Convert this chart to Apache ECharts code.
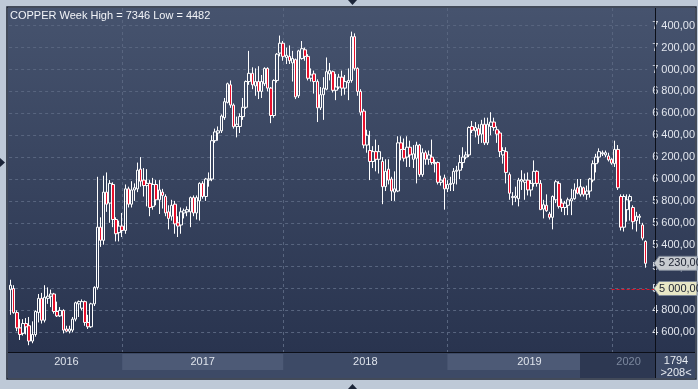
<!DOCTYPE html>
<html><head><meta charset="utf-8">
<script src="https://cdn.jsdelivr.net/npm/echarts@6/dist/echarts.min.js"></script>
<style>html,body{margin:0;padding:0;background:#bec9d7;overflow:hidden}#c{width:698px;height:389px}</style>
</head><body><div id="c"></div>
<script>
// ---- data (weekly OHLC, COPPER) ----
const opens = [4990,5000,4780,4640,4590,4680,4660,4520,4580,4780,4910,4710,4910,4930,4950,4790,4750,4800,4630,4610,
4620,4720,4860,4820,4880,4690,4650,4860,5010,5560,5440,5880,5780,5950,5630,5510,5570,5530,5910,5770,
5900,5910,6090,5990,5940,5960,5750,5950,5810,5880,5840,5700,5660,5770,5600,5580,5690,5700,5700,5830,
5690,5800,5960,5840,5990,6000,6350,6420,6440,6560,6700,6860,6675,6480,6480,6570,6655,6890,6965,6850,
6890,6800,6870,7010,6830,6580,6900,7150,7240,7110,7120,7060,7090,6760,7100,7180,7120,6920,6960,6890,
6650,6770,6820,6960,6980,6810,6840,6930,6830,6880,6900,7300,7010,6800,6620,6310,6260,6160,6250,6180,
6160,5930,6090,6000,5880,5890,6330,6270,6200,6290,6180,6190,6310,6040,6240,6180,6200,6140,6150,5970,
6010,5910,5950,5960,6070,6080,6150,6200,6220,6480,6440,6460,6410,6500,6330,6480,6520,6450,6420,6220,
6250,6040,5830,5830,5820,5980,5970,5990,5900,5960,6070,5960,5725,5760,5680,5650,5810,5960,5780,5740,
5760,5800,5820,5920,5860,5920,5860,5890,5990,6140,6200,6230,6220,6210,6180,6140,6270,5840,5560,5720,
5800,5740,5620,5650,5580,5430];
const closes = [5030,4780,4640,4580,4680,4650,4520,4580,4790,4910,4710,4920,4930,4950,4790,4750,4800,4620,4610,4630,
4720,4870,4880,4880,4690,4650,4860,5010,5560,5440,5880,5770,5960,5630,5500,5570,5530,5910,5770,5900,
5920,6080,5980,5940,5960,5740,5950,5810,5900,5850,5690,5640,5760,5590,5570,5700,5710,5720,5830,5690,
5830,5960,5840,6000,6000,6350,6430,6440,6575,6706,6870,6675,6478,6500,6570,6655,6890,6965,6860,6890,
6800,6890,7010,6830,6580,6900,7140,7240,7120,7130,7080,7100,6750,7170,7190,7120,6920,6950,6890,6650,
6770,6830,6980,6990,6810,6840,6930,6830,6890,6900,7300,7010,6800,6610,6310,6400,6160,6250,6180,6250,
5930,6070,5990,5890,5910,6330,6270,6190,6290,6220,6230,6310,6040,6240,6180,6220,6150,6150,5970,5990,
5910,5950,5960,6070,6080,6150,6200,6220,6470,6445,6470,6400,6500,6330,6500,6520,6470,6410,6250,6260,
6060,5870,5840,5845,5990,5995,5990,5900,5960,6070,5960,5720,5765,5710,5650,5840,5975,5750,5740,5780,
5810,5820,5900,5870,5930,5860,5890,6000,6140,6200,6250,6240,6240,6175,6145,6270,5920,5560,5840,5810,
5840,5610,5660,5660,5460,5230];
const lows = [4760,4770,4610,4530,4570,4580,4482,4500,4560,4690,4680,4690,4860,4830,4770,4740,4740,4590,4600,4590,
4600,4700,4740,4800,4660,4630,4640,4840,4990,5380,5400,5700,5600,5560,5430,5430,5470,5500,5740,5740,
5800,5880,5930,5840,5750,5660,5720,5760,5680,5730,5660,5540,5620,5500,5470,5500,5640,5660,5560,5660,
5630,5620,5820,5800,5930,5980,6330,6350,6420,6540,6690,6650,6460,6380,6420,6540,6640,6860,6820,6760,
6730,6740,6850,6800,6510,6560,6880,7120,7080,7050,7050,6890,6730,6740,7090,7080,6900,6890,6780,6520,
6630,6540,6810,6900,6790,6720,6820,6760,6770,6720,6880,6990,6760,6580,6280,6240,5990,6100,6070,6050,
5770,5890,5950,5800,5800,5880,6170,6160,6110,6110,6100,5960,6020,6020,6130,6130,6130,6060,5950,5940,
5720,5880,5890,5890,5950,6000,6100,6180,6200,6420,6380,6320,6330,6310,6310,6400,6440,6330,6200,6140,
5960,5810,5760,5790,5750,5900,5810,5850,5840,5930,5930,5720,5640,5700,5630,5540,5780,5730,5700,5670,
5670,5670,5810,5860,5840,5840,5810,5830,5970,6060,6150,6210,6200,6160,6130,6110,5900,5530,5520,5610,
5620,5540,5520,5590,5440,5190];
const highs = [5080,5030,4800,4720,4720,4730,4740,4700,4800,4950,4960,5030,5010,4990,4960,4880,4830,4810,4660,4660,
4740,4880,4890,4900,4890,4760,4870,5020,6020,5650,6030,6060,5990,5970,5650,5620,5690,5950,5930,5980,
5960,6150,6200,6100,6090,5990,6010,5990,5990,5910,5860,5760,5810,5800,5660,5740,5730,5750,5840,5850,
5850,5970,5980,6010,6060,6400,6460,6480,6590,6740,6880,6900,6690,6570,6600,6740,6900,7170,7020,7010,
7030,6950,7020,7020,6840,6910,7150,7310,7260,7200,7220,7170,7100,7180,7260,7200,7140,7010,6990,6910,
6840,6930,7110,7060,6990,6960,6960,6990,6950,7010,7346,7330,7020,6820,6640,6450,6440,6300,6360,6310,
6200,6180,6180,6020,6070,6390,6390,6370,6390,6350,6310,6340,6320,6280,6260,6260,6360,6180,6160,6030,
6040,5990,6020,6100,6120,6220,6290,6250,6480,6530,6520,6500,6540,6560,6560,6610,6560,6480,6440,6290,
6290,6060,5880,5930,6010,6080,6050,6060,5990,6170,6080,5990,5810,5860,5700,5850,5990,5980,5820,5800,
5830,5910,5960,6000,6000,5930,5940,6010,6170,6230,6280,6260,6260,6240,6190,6350,6310,5860,5860,5860,
5860,5760,5700,5680,5600,5440];
const yearLabels = ['2016','2017','2018','2019','2020'];
const yearStartIndex = [0, 36, 88, 141, 194];   // first weekly bar of each year
const yMin = 4600, yMax = 7400, yStep = 200;
const lastPrice = 5230;
const alertLevel = 5000;
const titleText = 'COPPER Week High = 7346 Low = 4482';
const footerTop = '1794', footerBottom = '>208<';

// ---- chart ----
const chart = echarts.init(document.getElementById('c'), null, {renderer:'canvas', width:698, height:389});
const cats = opens.map((_, i) => String(i));
const ohlc = opens.map((o, i) => [o, closes[i], lows[i], highs[i]]);
const fmt = v => String(v).replace(/\B(?=(\d{3})+(?!\d))/g, ' ') + ',00';
const FONT = '"Liberation Sans Narrow","Arial Narrow","Liberation Sans",Arial,sans-serif';

const GRID = {left: 9.1, right: 44.1, top: 25.7, bottom: 56.7};
chart.setOption({
  animation: false,
  backgroundColor: 'transparent',
  grid: GRID,
  xAxis: {type:'category', data: cats, boundaryGap: true,
    axisLine:{show:false}, axisTick:{show:false}, axisLabel:{show:false}, splitLine:{show:false}},
  yAxis: {type:'value', position:'right', min:yMin, max:yMax, interval:yStep, scale:true,
    axisLine:{show:false}, axisTick:{show:false},
    axisLabel:{margin:5, color:'#e2e6ee', fontSize:11, fontFamily:FONT, formatter: fmt},
    splitLine:{show:true, lineStyle:{color:'#58657f', type:[3,3], width:1}}},
  series: [{
    type:'candlestick', data: ohlc, clip:false, barWidth: 3,
    itemStyle:{color:'rgba(0,0,0,0)', color0:'#e8102c', borderColor:'#ffffff', borderColor0:'#ffffff', borderWidth:1},
    emphasis:{disabled:true}
  }]
});

const px = i => chart.convertToPixel({xAxisIndex:0}, i);
const py = v => chart.convertToPixel({yAxisIndex:0}, v);
const L = 8, R = 655, T = 8, B = 352, BB = 378, RR = 695;

const els = [];
// panel background
els.push({type:'rect', z:-20, silent:true, shape:{x:L, y:T, width:RR-L, height:B-T},
  style:{fill:new echarts.graphic.LinearGradient(0,0,0,1,[{offset:0,color:'#46536e'},{offset:1,color:'#29344f'}])}});
// time band
els.push({type:'rect', z:-20, silent:true, shape:{x:L, y:B, width:RR-L, height:BB-B}, style:{fill:'#3d4a66'}});
// year boundary x positions
const bx = yearStartIndex.map((idx, k) => k === 0 ? L : px(idx));
// shaded boxes for 2017 and 2019
els.push({type:'rect', z:-19, silent:true, shape:{x:bx[1], y:B+2, width:bx[2]-bx[1], height:16}, style:{fill:'#4d5a76'}});
els.push({type:'rect', z:-19, silent:true, shape:{x:bx[3], y:B+2, width:580-bx[3], height:16}, style:{fill:'#4d5a76'}});
els.push({type:'rect', z:-18, silent:true, shape:{x:580, y:B+1, width:R-580, height:BB-B-1}, style:{fill:'#2d3852'}});
// vertical year lines
for (let k = 1; k < bx.length; k++) {
  els.push({type:'line', z:-15, silent:true, shape:{x1:Math.round(bx[k])+0.5, y1:T, x2:Math.round(bx[k])+0.5, y2:B},
    style:{stroke:'#58657f', lineWidth:1, lineDash:[3,3]}});
}
// year labels
const firstX = px(0), lastX = px(opens.length-1);
for (let k = 0; k < yearLabels.length; k++) {
  const a = k === 0 ? firstX : bx[k];
  const b = k === yearLabels.length-1 ? lastX : bx[k+1];
  els.push({type:'text', z:10, silent:true, style:{x:(a+b)/2, y:362, text:yearLabels[k], align:'center', verticalAlign:'middle',
    fill: k === yearLabels.length-1 ? '#7c889e' : '#dfe4ec', font:'11px ' + FONT}});
}
// frame lines
els.push({type:'line', z:5, silent:true, shape:{x1:R+0.5, y1:T, x2:R+0.5, y2:BB}, style:{stroke:'#0c0f18', lineWidth:1}});
els.push({type:'line', z:5, silent:true, shape:{x1:L, y1:B+0.5, x2:RR, y2:B+0.5}, style:{stroke:'#0c0f18', lineWidth:1}});
els.push({type:'rect', z:5, silent:true, shape:{x:L-1, y:T-1, width:RR-L+2, height:BB-T+2}, style:{fill:'none', stroke:'#1a2130', lineWidth:1.5}});
// title
els.push({type:'text', z:10, silent:true, style:{x:10, y:16, text:titleText, verticalAlign:'middle', fill:'#f2f4f8', font:'11px ' + FONT}});
// alert line at 5000
const ya = Math.round(py(alertLevel)) + 0.5;
els.push({type:'line', z:6, silent:true, shape:{x1:px(yearStartIndex[4]), y1:ya, x2:R, y2:ya}, style:{stroke:'#e0162a', lineWidth:1, lineDash:[3,2]}});
// price tags
function tag(v, fill) {
  const y = py(v);
  els.push({type:'polygon', z:8, silent:true, shape:{points:[[654,y],[659,y-7],[697,y-7],[697,y+7],[659,y+7]]},
    style:{fill:fill, stroke:'#7d8797', lineWidth:1}});
  els.push({type:'text', z:9, silent:true, style:{x:659, y:y, text:fmt(v), verticalAlign:'middle', fill:'#1b2130', font:'11px ' + FONT}});
}
tag(lastPrice, '#c7cbd0');
tag(alertLevel, '#e8e7c6');
// footer
els.push({type:'text', z:10, silent:true, style:{x:676, y:361, text:footerTop, align:'center', verticalAlign:'middle', fill:'#e8ecf2', font:'11px ' + FONT}});
els.push({type:'text', z:10, silent:true, style:{x:676, y:373, text:footerBottom, align:'center', verticalAlign:'middle', fill:'#e8ecf2', font:'11px ' + FONT}});
// small triangles on outer frame
els.push({type:'polygon', z:10, silent:true, shape:{points:[[348,0],[357,0],[352.5,5]]}, style:{fill:'#1c2538'}});
els.push({type:'polygon', z:10, silent:true, shape:{points:[[0,158],[0,167],[5,162.5]]}, style:{fill:'#1c2538'}});
els.push({type:'polygon', z:10, silent:true, shape:{points:[[348,389],[357,389],[352.5,384]]}, style:{fill:'#1c2538'}});

chart.setOption({graphic:{elements: els}});
</script></body></html>
